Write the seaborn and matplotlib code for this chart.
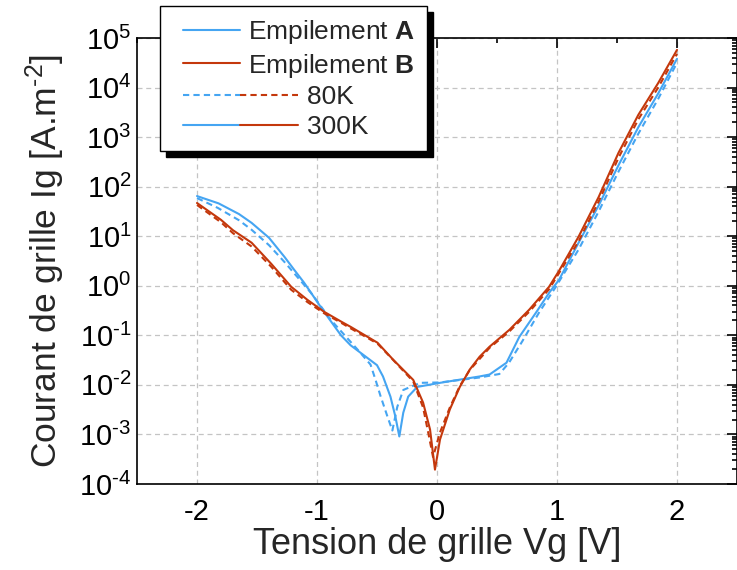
"""
Courant de grille en fonction de la tension de grille (empilements A et B)
"""

import numpy as np
import pandas as pd
import matplotlib
matplotlib.use("Agg")
import matplotlib.pyplot as plt
import seaborn as sns
from matplotlib.lines import Line2D
from matplotlib.legend_handler import HandlerBase
from matplotlib.ticker import LogLocator, MultipleLocator, NullFormatter, FuncFormatter

# --- données : tension [V], courant [A.m-2] ---
v_a300 = [-2.00, -1.82, -1.65, -1.545, -1.40, -1.27, -1.19, -1.107, -0.942, -0.80,
          -0.72, -0.58, -0.50, -0.45, -0.388, -0.347, -0.314, -0.281, -0.240,
          -0.165, 0.025, 0.355, 0.438, 0.579, 0.686, 0.826, 0.934, 1.017, 1.18,
          1.347, 1.512, 1.678, 1.843, 2.00]
i_a300 = [64.6, 46.0, 28.0, 18.6, 9.3, 3.8, 2.1, 1.15, 0.30, 0.10,
          0.063, 0.035, 0.025, 0.0148, 5.8e-3, 2.3e-3, 9.1e-4, 2.75e-3, 5.8e-3,
          9.1e-3, 0.011, 0.0148, 0.0162, 0.028, 0.093, 0.29, 0.72, 1.32, 7.4,
          41.7, 269, 1585, 7586, 38000]

v_a80 = [-2.00, -1.826, -1.65, -1.545, -1.40, -1.27, -1.05, -0.884, -0.66,
         -0.554, -0.512, -0.471, -0.413, -0.372, -0.331, -0.281, -0.14, 0.025,
         0.355, 0.52, 0.60, 0.711, 0.851, 0.99, 1.18, 1.347, 1.512, 1.678,
         1.843, 2.00]
i_a80 = [58.9, 37.2, 21.0, 13.5, 6.6, 3.0, 0.72, 0.204, 0.051,
         0.0257, 0.0126, 6.0e-3, 2.3e-3, 1.2e-3, 3.6e-3, 7.9e-3, 0.011, 0.0112,
         0.0141, 0.0166, 0.028, 0.076, 0.29, 0.95, 5.4, 31.6, 200, 1175,
         5890, 31600]

v_b300 = [-2.00, -1.80, -1.70, -1.545, -1.38, -1.215, -1.08, -0.942, -0.80,
          -0.719, -0.60, -0.496, -0.364, -0.198, -0.116, -0.058, -0.017, 0.025,
          0.107, 0.19, 0.273, 0.355, 0.438, 0.603, 0.769, 0.934, 1.017, 1.18,
          1.347, 1.512, 1.678, 1.843, 2.00]
i_b300 = [46.8, 21.4, 13.2, 7.4, 2.75, 0.955, 0.52, 0.30, 0.19,
          0.148, 0.10, 0.071, 0.032, 0.0126, 4.4e-3, 1.26e-3, 1.95e-4, 7.9e-4,
          3.2e-3, 9.1e-3, 0.0204, 0.037, 0.059, 0.129, 0.33, 0.955, 2.0, 9.8,
          61.7, 479, 2820, 12300, 57500]

v_b80 = [-2.00, -1.80, -1.70, -1.545, -1.38, -1.215, -1.08, -0.942, -0.80,
         -0.719, -0.60, -0.496, -0.364, -0.198, -0.116, -0.07, -0.033, 0.025,
         0.107, 0.19, 0.273, 0.438, 0.603, 0.769, 0.934, 1.18, 1.347, 1.512,
         1.678, 1.843, 2.00]
i_b80 = [42.7, 19.1, 11.5, 6.2, 2.4, 0.83, 0.47, 0.28, 0.18,
         0.138, 0.095, 0.068, 0.0316, 0.0117, 3.5e-3, 1.0e-3, 3.5e-4, 1.1e-3,
         3.5e-3, 9.5e-3, 0.02, 0.056, 0.12, 0.30, 0.85, 7.9, 50, 380,
         2290, 10000, 47900]

x_ticks = [-2, -1, 0, 1, 2]

BLUE = "#45a5f2"
RED = "#c4380c"


class SegmentsHandler(HandlerBase):
    """Segments côte à côte, décalés à droite de `lead` (fraction de la case)"""

    def __init__(self, lead=0.16, **kw):
        super().__init__(**kw)
        self.lead = lead

    def create_artists(self, legend, orig_handle, xdescent, ydescent,
                       width, height, fontsize, trans):
        y = height / 2 - ydescent
        x0 = -xdescent + self.lead * width
        seg_w = width * (1 - self.lead)
        arts = []
        for k, ln in enumerate(orig_handle):
            seg = Line2D([x0 + k * seg_w, x0 + (k + 1) * seg_w], [y, y])
            self.update_prop(seg, ln, legend)
            seg.set_transform(trans)
            arts.append(seg)
        return arts


def build_frame():
    parts = []
    for v, i, stack, temp in [(v_a300, i_a300, "A", "300K"), (v_a80, i_a80, "A", "80K"),
                              (v_b300, i_b300, "B", "300K"), (v_b80, i_b80, "B", "80K")]:
        parts.append(pd.DataFrame({"Vg": v, "Ig": i, "stack": stack, "temp": temp}))
    return pd.concat(parts, ignore_index=True)


def pow10_label(val, pos):
    exp = int(round(np.log10(val)))
    return r"10$^{\text{%d}}$" % exp


df = build_frame()

sns.set_style("white")
plt.rcParams["font.family"] = ["Liberation Sans", "DejaVu Sans"]
plt.rcParams["mathtext.fontset"] = "custom"
plt.rcParams["mathtext.rm"] = "Liberation Sans"
plt.rcParams["mathtext.it"] = "Liberation Sans:italic"
plt.rcParams["mathtext.bf"] = "Liberation Sans:bold"
plt.rcParams["mathtext.default"] = "regular"
plt.rcParams["axes.unicode_minus"] = False

fig = plt.figure(figsize=(7.37, 5.70), dpi=100)
ax = fig.add_axes([137 / 737, 86 / 570, 600 / 737, 446 / 570])

sns.lineplot(data=df, x="Vg", y="Ig", hue="stack", style="temp",
             palette={"A": BLUE, "B": RED},
             dashes={"300K": "", "80K": (3, 2)},
             style_order=["300K", "80K"], hue_order=["A", "B"],
             sort=False, estimator=None, linewidth=1.5, legend=False, ax=ax)

ax.set_yscale("log")
ax.set_xlim(-2.5, 2.5)
ax.set_ylim(1e-4, 1e5)
ax.set_xticks(x_ticks)
ax.set_xticklabels([str(t) for t in x_ticks])
ax.xaxis.set_minor_locator(MultipleLocator(0.5))
ax.yaxis.set_major_locator(LogLocator(base=10, numticks=20))
ax.yaxis.set_major_formatter(FuncFormatter(pow10_label))
ax.yaxis.set_minor_locator(LogLocator(base=10, subs=np.arange(2, 10), numticks=200))
ax.yaxis.set_minor_formatter(NullFormatter())

ax.grid(True, which="major", color="#c4c4c4", linestyle=(0, (4, 3)), linewidth=0.9)
ax.tick_params(which="both", direction="in", top=True, right=True, width=1.2,
               colors="black", labelsize=21)
ax.tick_params(which="major", length=7)
ax.tick_params(which="minor", length=3.5)
ax.tick_params(axis="x", pad=10)
ax.tick_params(axis="y", pad=4)
for sp in ax.spines.values():
    sp.set_linewidth(1.2)
    sp.set_color("black")

ax.set_xlabel("Tension de grille Vg [V]", fontsize=26, labelpad=1)
ax.set_ylabel(r"Courant de grille Ig [A.m$^{\text{-2}}$]", fontsize=25.5, labelpad=9)

# --- légende ---
solid = dict(lw=1.5)
dash = dict(lw=1.5, ls=(0, (3, 2)))
h_a = (Line2D([], [], color=BLUE, **solid),)
h_b = (Line2D([], [], color=RED, **solid),)
h80 = (Line2D([], [], color=BLUE, **dash), Line2D([], [], color=RED, **dash))
h300 = (Line2D([], [], color=BLUE, **solid), Line2D([], [], color=RED, **solid))
pad = " " * 8
leg = fig.legend([h_a, h_b, h80, h300],
                 [r"Empilement $\mathbf{A}$", r"Empilement $\mathbf{B}$",
                  pad + "80K", pad + "300K"],
                 handler_map={tuple: SegmentsHandler(lead=0.16)},
                 loc="upper left", bbox_to_anchor=(160 / 737, 1 - 6 / 570),
                 fontsize=19, frameon=True, fancybox=False, framealpha=1,
                 edgecolor="black", borderpad=0.45, labelspacing=0.22,
                 handlelength=2.6, handletextpad=0.3, borderaxespad=0,
                 shadow={"color": "black", "alpha": 1, "ox": 4.5, "oy": -4.5})
leg.get_frame().set_linewidth(1.0)

fig.savefig("out.png", dpi=100)
